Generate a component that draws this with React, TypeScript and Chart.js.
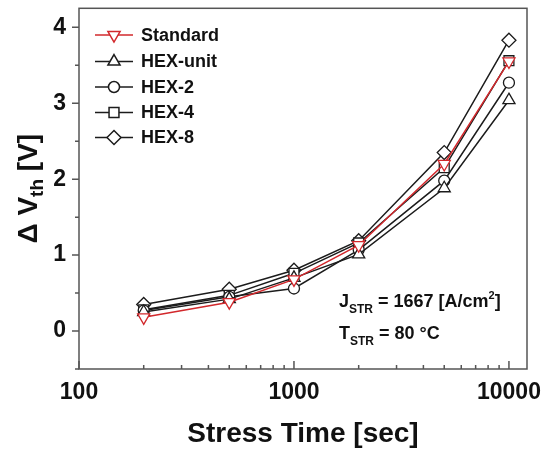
import React, { useEffect, useRef } from 'react';
import { Chart, registerables } from 'chart.js';
import { drawPoint } from 'chart.js/helpers';

Chart.register(...registerables);

// ---- data ----
const stressTimes = [200, 500, 1000, 2000, 5000, 10000];
const standardVals = [0.18, 0.38, 0.68, 1.13, 2.2, 3.55];
const hexUnitVals = [0.25, 0.42, 0.7, 1.01, 1.88, 3.04];
const hex2Vals = [0.27, 0.45, 0.56, 1.07, 1.98, 3.27];
const hex4Vals = [0.28, 0.47, 0.76, 1.16, 2.15, 3.56];
const hex8Vals = [0.35, 0.55, 0.8, 1.19, 2.35, 3.83];
const seriesNames = ['Standard', 'HEX-unit', 'HEX-2', 'HEX-4', 'HEX-8'];
const xTickValues = [100, 1000, 10000];
const yTickValues = [0, 1, 2, 3, 4];

const RED = '#d2282c';
const BLACK = '#1c1c1c';
const FONT = '"Liberation Sans", Arial, sans-serif';

const styles = [
  { color: RED, pointStyle: 'triangle', rotation: 180, radius: 7 },
  { color: BLACK, pointStyle: 'triangle', rotation: 0, radius: 7 },
  { color: BLACK, pointStyle: 'circle', rotation: 0, radius: 5.5 },
  { color: BLACK, pointStyle: 'rect', rotation: 0, radius: 7 },
  { color: BLACK, pointStyle: 'rectRot', rotation: 0, radius: 7 },
];

const allVals = [standardVals, hexUnitVals, hex2Vals, hex4Vals, hex8Vals];

const decorPlugin = {
  id: 'decor',
  afterDraw(chart: any) {
    const { ctx, chartArea: a, scales } = chart;
    const xs = scales.x;
    const ys = scales.y;
    ctx.save();
    // frame
    ctx.strokeStyle = '#555';
    ctx.lineWidth = 1.5;
    ctx.strokeRect(a.left, a.top, a.right - a.left, a.bottom - a.top);
    // ticks
    ctx.beginPath();
    for (let d = 100; d <= 10000; d *= 10) {
      for (let k = 1; k < 10; k++) {
        const v = d * k;
        if (v > xs.max) break;
        const px = xs.getPixelForValue(v);
        const len = k === 1 ? 8 : 4;
        ctx.moveTo(px, a.bottom);
        ctx.lineTo(px, a.bottom - len);
      }
    }
    for (let i = -1; i <= 8; i++) {
      const v = i * 0.5;
      const py = ys.getPixelForValue(v);
      const len = i % 2 === 0 ? 7 : 4;
      ctx.moveTo(a.left, py);
      ctx.lineTo(a.left - len, py);
    }
    ctx.stroke();

    // legend
    const rowY = [35, 61.5, 87, 112.5, 137.5];
    ctx.textBaseline = 'middle';
    ctx.textAlign = 'left';
    seriesNames.forEach((name, i) => {
      const s = styles[i];
      const y = rowY[i];
      ctx.strokeStyle = s.color;
      ctx.lineWidth = 1.5;
      ctx.beginPath();
      ctx.moveTo(95, y);
      ctx.lineTo(133, y);
      ctx.stroke();
      ctx.fillStyle = '#fff';
      ctx.strokeStyle = s.color;
      drawPoint(ctx, { pointStyle: s.pointStyle, rotation: s.rotation, radius: s.radius, borderWidth: 1.3 }, 114, y);
      ctx.fillStyle = '#111';
      ctx.font = `bold 18px ${FONT}`;
      ctx.fillText(name, 141, y + 1);
    });

    // annotation
    ctx.textBaseline = 'alphabetic';
    const drawRow = (parts: Array<[string, number, number]>, x0: number, base: number) => {
      let x = x0;
      for (const [t, size, dy] of parts) {
        ctx.font = `bold ${size}px ${FONT}`;
        ctx.fillText(t, x, base + dy);
        x += ctx.measureText(t).width;
      }
    };
    ctx.fillStyle = '#111';
    drawRow([['J', 18, 0], ['STR', 12, 6], [' = 1667 [A/cm', 18, 0], ['2', 11, -8], [']', 18, 0]], 339, 307);
    drawRow([['T', 18, 0], ['STR', 12, 6], [' = 80 \u00B0C', 18, 0]], 339, 339);

    // x title
    ctx.font = `bold 28px ${FONT}`;
    ctx.textAlign = 'center';
    ctx.fillText('Stress Time [sec]', (a.left + a.right) / 2, 442);

    // y title (rotated)
    ctx.translate(37, (a.top + a.bottom) / 2);
    ctx.rotate(-Math.PI / 2);
    ctx.textAlign = 'left';
    const parts: Array<[string, number, number]> = [['\u0394 V', 28, 0], ['th', 19, 6], [' [V]', 28, 0]];
    let total = 0;
    for (const [t, size] of parts) {
      ctx.font = `bold ${size}px ${FONT}`;
      total += ctx.measureText(t).width;
    }
    let x = -total / 2;
    for (const [t, size, dy] of parts) {
      ctx.font = `bold ${size}px ${FONT}`;
      ctx.fillText(t, x, dy);
      x += ctx.measureText(t).width;
    }
    ctx.restore();
  },
};

export default function App() {
  const ref = useRef<HTMLCanvasElement | null>(null);
  useEffect(() => {
    if (!ref.current) return;
    const datasets = seriesNames.map((name, i) => {
      const s = styles[i];
      return {
        label: name,
        data: stressTimes.map((t, j) => ({ x: t, y: allVals[i][j] })),
        borderColor: s.color,
        borderWidth: 1.5,
        pointStyle: s.pointStyle,
        pointRotation: s.rotation,
        pointRadius: s.radius,
        pointBackgroundColor: '#fff',
        pointBorderColor: s.color,
        pointBorderWidth: 1.3,
        tension: 0,
        fill: false,
      };
    });
    const chart = new Chart(ref.current, {
      type: 'line',
      data: { datasets: datasets as any },
      options: {
        animation: false,
        responsive: true,
        maintainAspectRatio: false,
        layout: { padding: { left: 0, top: 8, right: 26, bottom: 0 } },
        plugins: { legend: { display: false }, tooltip: { enabled: false } },
        scales: {
          x: {
            type: 'logarithmic',
            min: 100,
            max: 12134,
            afterBuildTicks: (sc: any) => {
              sc.ticks = xTickValues.map((v) => ({ value: v }));
            },
            afterFit: (sc: any) => {
              sc.height = 85;
              sc.paddingLeft = 0;
              sc.paddingRight = 0;
            },
            grid: { display: false, drawTicks: false },
            border: { display: false },
            ticks: {
              padding: 10,
              color: '#111',
              font: { family: FONT, size: 23, weight: 'bold' },
              callback: (v: any) => String(v),
              maxRotation: 0,
              autoSkip: false,
            },
          },
          y: {
            type: 'linear',
            min: -0.5,
            max: 4.25,
            afterBuildTicks: (sc: any) => {
              sc.ticks = yTickValues.map((v) => ({ value: v }));
            },
            afterFit: (sc: any) => {
              sc.width = 79;
              sc.paddingTop = 0;
              sc.paddingBottom = 0;
            },
            grid: { display: false, drawTicks: false },
            border: { display: false },
            ticks: {
              padding: 13,
              color: '#111',
              font: { family: FONT, size: 23, weight: 'bold' },
              callback: (v: any) => String(v),
            },
          },
        },
      } as any,
      plugins: [decorPlugin],
    });
    return () => chart.destroy();
  }, []);
  return (
    <div style={{ position: 'absolute', left: 0, top: 0, width: 553, height: 454, background: '#fff' }}>
      <canvas ref={ref} />
    </div>
  );
}
